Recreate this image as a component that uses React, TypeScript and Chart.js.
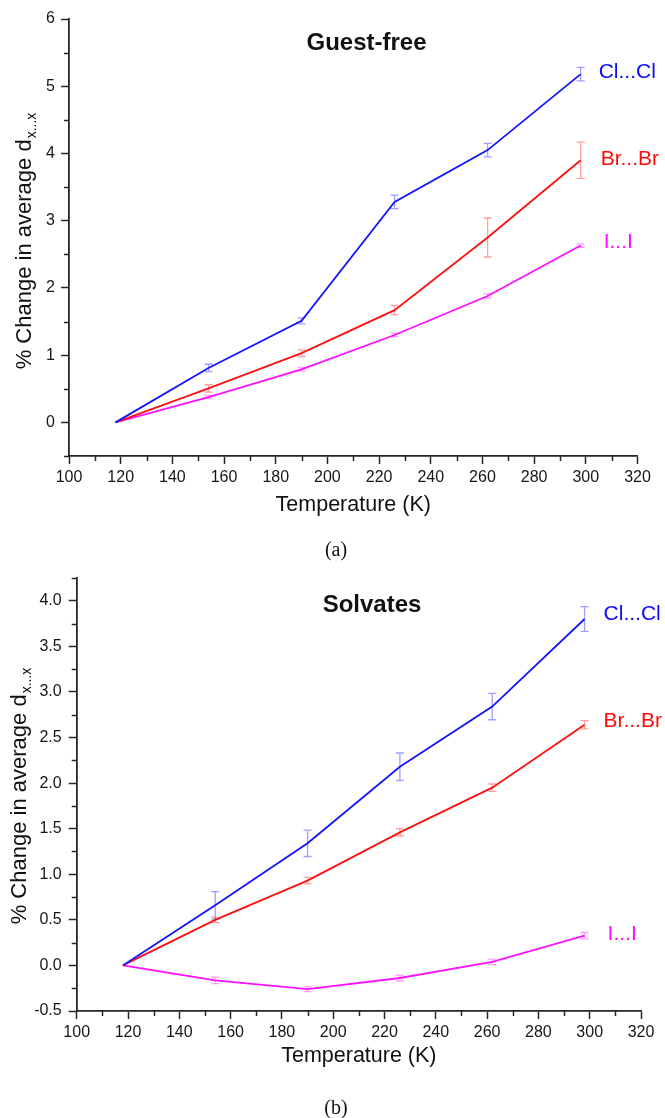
import React, { useEffect, useRef } from 'react';
import { Chart, registerables } from 'chart.js';

Chart.register(...registerables);

// ---------------- data ----------------
const temperatures = [118, 154, 190, 226, 262, 298];
const seriesNames = ['Cl...Cl', 'Br...Br', 'I...I'];

// Panel (a) Guest-free
const guestFreeCl = [0, 0.81, 1.51, 3.28, 4.05, 5.18];
const guestFreeClErr = [0, 0.055, 0.045, 0.1, 0.1, 0.1];
const guestFreeBr = [0, 0.505, 1.03, 1.67, 2.75, 3.9];
const guestFreeBrErr = [0, 0.055, 0.05, 0.07, 0.29, 0.27];
const guestFreeI = [0, 0.377, 0.79, 1.3, 1.88, 2.63];
const guestFreeIErr = [0, 0.025, 0.025, 0.025, 0.03, 0.025];

// Panel (b) Solvates
const solvatesCl = [0, 0.66, 1.34, 2.18, 2.84, 3.8];
const solvatesClErr = [0, 0.15, 0.145, 0.15, 0.145, 0.135];
const solvatesBr = [0, 0.5, 0.93, 1.46, 1.95, 2.64];
const solvatesBrErr = [0, 0.03, 0.035, 0.04, 0.04, 0.045];
const solvatesI = [0, -0.165, -0.26, -0.138, 0.038, 0.326];
const solvatesIErr = [0, 0.035, 0.027, 0.03, 0.03, 0.035];

// axes
const xMin = 100;
const xMax = 320;
const xStep = 10;
const xLabelEvery = 20;
const guestFreeYMin = -0.5;
const guestFreeYMax = 6;
const guestFreeYStep = 0.5;
const guestFreeYLabelEvery = 1;
const solvatesYMin = -0.5;
const solvatesYMax = 4.25;
const solvatesYStep = 0.25;
const solvatesYLabelEvery = 0.5;

const xTitle = 'Temperature (K)';
const yTitleMain = '% Change in average d';
const yTitleSub = 'x...x';

// ---------------- styles ----------------
const FONT = '"Liberation Sans", Arial, sans-serif';
const lineColors = ['#1414ff', '#ff1010', '#ff10ff'];
const labelColors = ['#0a0aff', '#ff0a0a', '#ff0aff'];
const errColors = ['rgba(80,80,255,0.55)', 'rgba(255,80,80,0.55)', 'rgba(255,80,255,0.55)'];
const axisColor = '#262626';

type PanelCfg = {
  top: number;
  height: number;
  area: { left: number; right: number; top: number; bottom: number };
  title: string;
  titlePos: [number, number];
  series: number[][];
  errors: number[][];
  yMin: number;
  yMax: number;
  yStep: number;
  yLabelEvery: number;
  yDecimals: number;
  yLabelPad: number;
  xLabelPad: number;
  labelDx: number[];
  labelDy: number[];
  xTitleY: number;
  yTitleX: number;
  yTitleCy: number;
};

const panels: PanelCfg[] = [
  {
    top: 0,
    height: 560,
    area: { left: 69, right: 637.5, top: 19, bottom: 456 },
    title: 'Guest-free',
    titlePos: [366.5, 43],
    series: [guestFreeCl, guestFreeBr, guestFreeI],
    errors: [guestFreeClErr, guestFreeBrErr, guestFreeIErr],
    yMin: guestFreeYMin,
    yMax: guestFreeYMax,
    yStep: guestFreeYStep,
    yLabelEvery: guestFreeYLabelEvery,
    yDecimals: 0,
    yLabelPad: 6,
    xLabelPad: 4,
    labelDx: [18, 20, 23],
    labelDy: [-1.5, -1, -3.5],
    xTitleY: 505,
    yTitleX: 31,
    yTitleCy: 241,
  },
  {
    top: 560,
    height: 558,
    area: { left: 76.7, right: 641, top: 18, bottom: 451 },
    title: 'Solvates',
    titlePos: [372, 45],
    series: [solvatesCl, solvatesBr, solvatesI],
    errors: [solvatesClErr, solvatesBrErr, solvatesIErr],
    yMin: solvatesYMin,
    yMax: solvatesYMax,
    yStep: solvatesYStep,
    yLabelEvery: solvatesYLabelEvery,
    yDecimals: 1,
    yLabelPad: 7,
    xLabelPad: 3.5,
    labelDx: [19, 19, 23],
    labelDy: [-5, -3.5, -1.5],
    xTitleY: 496,
    yTitleX: 26,
    yTitleCy: 236,
  },
];

const isMultiple = (v: number, m: number) => Math.abs(v / m - Math.round(v / m)) < 1e-6;

function makePlugin(cfg: PanelCfg) {
  return {
    id: 'panelDecor',
    beforeDatasetsDraw(chart: any) {
      const ctx = chart.ctx;
      const xs = chart.scales.x;
      const ys = chart.scales.y;
      ctx.save();
      ctx.lineWidth = 1.3;
      cfg.series.forEach((vals, si) => {
        ctx.strokeStyle = errColors[si];
        vals.forEach((v, j) => {
          const e = cfg.errors[si][j];
          if (!e) return;
          const px = xs.getPixelForValue(temperatures[j]);
          const y1 = ys.getPixelForValue(v + e);
          const y2 = ys.getPixelForValue(v - e);
          ctx.beginPath();
          ctx.moveTo(px, y1);
          ctx.lineTo(px, y2);
          ctx.moveTo(px - 4, y1);
          ctx.lineTo(px + 4, y1);
          ctx.moveTo(px - 4, y2);
          ctx.lineTo(px + 4, y2);
          ctx.stroke();
        });
      });
      ctx.restore();
    },
    afterDraw(chart: any) {
      const ctx = chart.ctx;
      const xs = chart.scales.x;
      const ys = chart.scales.y;
      const area = chart.chartArea;
      ctx.save();
      // minor ticks
      ctx.strokeStyle = axisColor;
      ctx.lineWidth = 1.5;
      ctx.beginPath();
      xs.ticks.forEach((t: any) => {
        if (isMultiple(t.value, xLabelEvery)) return;
        const px = Math.round(xs.getPixelForValue(t.value)) + 0.5;
        ctx.moveTo(px, area.bottom);
        ctx.lineTo(px, area.bottom + 5);
      });
      ys.ticks.forEach((t: any) => {
        if (isMultiple(t.value, cfg.yLabelEvery)) return;
        const py = Math.round(ys.getPixelForValue(t.value)) + 0.5;
        ctx.moveTo(area.left, py);
        ctx.lineTo(area.left - 5, py);
      });
      ctx.stroke();

      // panel title
      ctx.fillStyle = '#111';
      ctx.font = `bold 24px ${FONT}`;
      ctx.textAlign = 'center';
      ctx.textBaseline = 'middle';
      ctx.fillText(cfg.title, cfg.titlePos[0], cfg.titlePos[1]);

      // series labels
      ctx.font = `21px ${FONT}`;
      ctx.textAlign = 'left';
      cfg.series.forEach((vals, si) => {
        const last = vals.length - 1;
        const px = xs.getPixelForValue(temperatures[last]);
        const py = ys.getPixelForValue(vals[last]);
        ctx.fillStyle = labelColors[si];
        ctx.fillText(seriesNames[si], px + cfg.labelDx[si], py + cfg.labelDy[si]);
      });

      // x title
      ctx.fillStyle = '#111';
      ctx.font = `21.5px ${FONT}`;
      ctx.textAlign = 'center';
      ctx.fillText(xTitle, (area.left + area.right) / 2, cfg.xTitleY);

      // y title (rotated, with subscript)
      ctx.translate(cfg.yTitleX, cfg.yTitleCy);
      ctx.rotate(-Math.PI / 2);
      ctx.textAlign = 'left';
      ctx.textBaseline = 'alphabetic';
      ctx.font = `22px ${FONT}`;
      const wMain = ctx.measureText(yTitleMain).width;
      ctx.font = `14px ${FONT}`;
      const wSub = ctx.measureText(yTitleSub).width;
      const x0 = -(wMain + 1 + wSub) / 2;
      ctx.font = `22px ${FONT}`;
      ctx.fillText(yTitleMain, x0, 0);
      ctx.font = `14px ${FONT}`;
      ctx.fillText(yTitleSub, x0 + wMain + 1, 5);
      ctx.restore();
    },
  };
}

function Panel({ cfg }: { cfg: PanelCfg }) {
  const ref = useRef<HTMLCanvasElement>(null);
  useEffect(() => {
    const canvas = ref.current;
    if (!canvas) return;
    const W = 665;
    const H = cfg.height;
    const chart = new Chart(canvas, {
      type: 'line',
      data: {
        datasets: cfg.series.map((vals, si) => ({
          label: seriesNames[si],
          data: vals.map((v, j) => ({ x: temperatures[j], y: v })),
          borderColor: lineColors[si],
          backgroundColor: lineColors[si],
          borderWidth: 1.8,
          pointRadius: 0,
          fill: false,
          tension: 0,
        })),
      },
      options: {
        responsive: false,
        animation: false,
        events: [],
        devicePixelRatio: 1,
        layout: {
          padding: { left: 0, right: W - cfg.area.right, top: cfg.area.top, bottom: 0 },
        },
        plugins: {
          legend: { display: false },
          tooltip: { enabled: false },
          title: { display: false },
        },
        scales: {
          x: {
            type: 'linear',
            min: xMin,
            max: xMax,
            afterFit: (s: any) => {
              s.height = H - cfg.area.bottom;
            },
            border: { display: true, color: axisColor, width: 1.8 },
            grid: {
              drawOnChartArea: false,
              drawTicks: true,
              tickLength: 8,
              tickWidth: 1.5,
              tickColor: (c: any) =>
                c.tick && isMultiple(c.tick.value, xLabelEvery) ? axisColor : 'rgba(0,0,0,0)',
            },
            ticks: {
              stepSize: xStep,
              autoSkip: false,
              maxRotation: 0,
              minRotation: 0,
              padding: cfg.xLabelPad,
              color: '#161616',
              font: { family: FONT, size: 16 },
              callback: (v: any) => (isMultiple(Number(v), xLabelEvery) ? String(Math.round(Number(v))) : ''),
            },
          },
          y: {
            type: 'linear',
            min: cfg.yMin,
            max: cfg.yMax,
            afterFit: (s: any) => {
              s.width = cfg.area.left;
            },
            border: { display: true, color: axisColor, width: 1.8 },
            grid: {
              drawOnChartArea: false,
              drawTicks: true,
              tickLength: 8,
              tickWidth: 1.5,
              tickColor: (c: any) =>
                c.tick && isMultiple(c.tick.value, cfg.yLabelEvery) ? axisColor : 'rgba(0,0,0,0)',
            },
            ticks: {
              stepSize: cfg.yStep,
              autoSkip: false,
              padding: cfg.yLabelPad,
              color: '#161616',
              font: { family: FONT, size: 16 },
              callback: (v: any) =>
                isMultiple(Number(v), cfg.yLabelEvery) ? Number(v).toFixed(cfg.yDecimals) : '',
            },
          },
        },
      },
      plugins: [makePlugin(cfg)],
    } as any);
    return () => chart.destroy();
  }, [cfg]);
  return (
    <canvas
      ref={ref}
      width={665}
      height={cfg.height}
      style={{ position: 'absolute', left: 0, top: cfg.top, width: 665, height: cfg.height, display: 'block' }}
    />
  );
}

const captionStyle = (top: number): React.CSSProperties => ({
  position: 'absolute',
  left: 0,
  top,
  width: 672,
  textAlign: 'center',
  font: '20px "Liberation Serif", "Times New Roman", serif',
  color: '#111',
  lineHeight: '24px',
});

export default function App() {
  return (
    <div style={{ position: 'absolute', left: 0, top: 0, width: 665, height: 1118, background: '#fff', overflow: 'hidden' }}>
      <Panel cfg={panels[0]} />
      <div style={captionStyle(537)}>(a)</div>
      <Panel cfg={panels[1]} />
      <div style={captionStyle(1095)}>(b)</div>
    </div>
  );
}
